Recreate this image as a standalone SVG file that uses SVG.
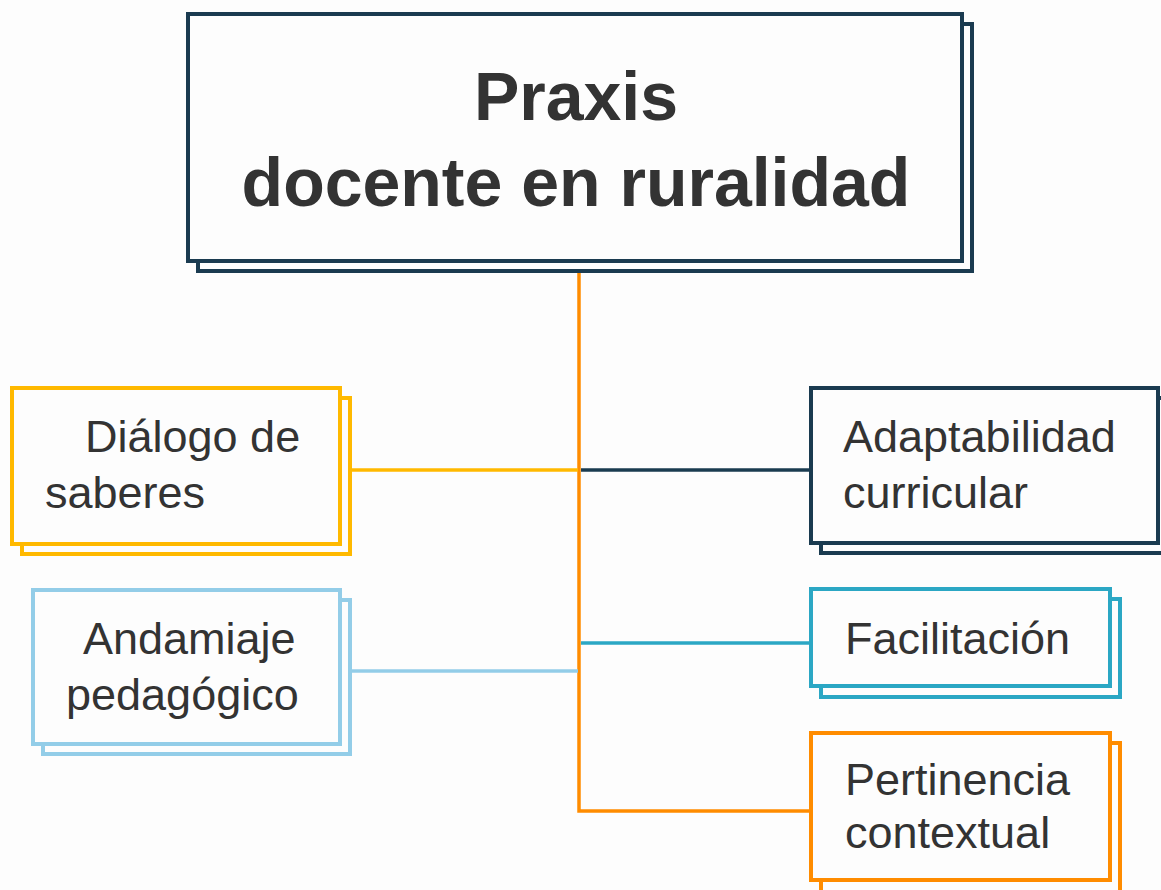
<svg xmlns="http://www.w3.org/2000/svg" width="1161" height="890" viewBox="0 0 1161 890">
<style>
.bg{fill:#fdfdfd}
.box{fill:#fdfdfd;stroke-width:4}
.t{font-family:"Liberation Sans",Arial,sans-serif;font-size:45px;fill:#333333}
.title{font-family:"Liberation Sans",Arial,sans-serif;font-size:68px;font-weight:bold;fill:#333333;text-anchor:middle}
.c{fill:none;stroke-width:3.5}
</style>
<rect class="bg" x="0" y="0" width="1161" height="890"/>
<g id="connectors">
<polyline class="c" stroke="#FF8C00" points="579,271 579,811 811,811"/>
<line class="c" stroke="#FFB900" x1="350" y1="470" x2="578" y2="470"/>
<line class="c" stroke="#1a3b50" x1="581" y1="470" x2="811" y2="470"/>
<line class="c" stroke="#93CDE8" x1="350" y1="671" x2="578" y2="671"/>
<line class="c" stroke="#2BA7C4" x1="581" y1="643" x2="811" y2="643"/>
</g>
<g id="main">
<rect class="box" stroke="#1a3b50" x="198" y="24" width="774" height="247"/>
<rect class="box" stroke="#1a3b50" x="188" y="14" width="774" height="247"/>
<text class="title" x="576" y="120">Praxis</text>
<text class="title" x="576" y="206">docente en ruralidad</text>
</g>
<g id="dialogo">
<rect class="box" stroke="#FFB900" x="22" y="398" width="328" height="156"/>
<rect class="box" stroke="#FFB900" x="12" y="388" width="328" height="156"/>
<text class="t" x="85" y="452">Diálogo de</text>
<text class="t" x="45" y="508">saberes</text>
</g>
<g id="andamiaje">
<rect class="box" stroke="#93CDE8" x="43" y="600" width="307" height="154"/>
<rect class="box" stroke="#93CDE8" x="33" y="590" width="307" height="154"/>
<text class="t" x="83" y="654">Andamiaje</text>
<text class="t" x="66" y="710">pedagógico</text>
</g>
<g id="adaptabilidad">
<rect class="box" stroke="#1a3b50" x="821" y="398" width="348" height="155"/>
<rect class="box" stroke="#1a3b50" x="811" y="388" width="347" height="155"/>
<text class="t" x="843" y="452">Adaptabilidad</text>
<text class="t" x="843" y="508">curricular</text>
</g>
<g id="facilitacion">
<rect class="box" stroke="#2BA7C4" x="821" y="599" width="299" height="98"/>
<rect class="box" stroke="#2BA7C4" x="811" y="589" width="299" height="97"/>
<text class="t" x="845" y="654">Facilitación</text>
</g>
<g id="pertinencia">
<rect class="box" stroke="#FF8C00" x="821" y="743" width="299" height="150"/>
<rect class="box" stroke="#FF8C00" x="811" y="733" width="299" height="147"/>
<text class="t" x="845" y="795">Pertinencia</text>
<text class="t" x="845" y="848">contextual</text>
</g>
</svg>
